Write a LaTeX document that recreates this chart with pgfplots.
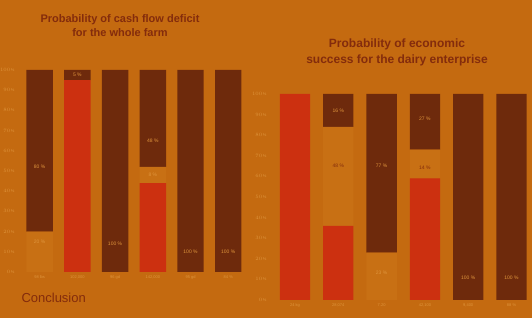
\documentclass[border=0pt]{standalone}
\usepackage{pgfplots}
\pgfplotsset{compat=1.18}
\usepackage{fontspec}
\setmainfont{Liberation Sans}
\definecolor{bg}{RGB}{196,106,16}
\definecolor{darkb}{RGB}{110,42,12}
\definecolor{redb}{RGB}{204,48,16}
\definecolor{orb}{RGB}{200,112,20}
\definecolor{ttl}{RGB}{132,44,12}
\definecolor{lbl}{RGB}{222,148,60}
\pgfplotsset{
  slide/.style={
    scale only axis, anchor=south west,
    ybar stacked, bar width=0.7,
    ymin=0, ymax=100, ytick={0,10,...,100},
    yticklabel={\pgfmathprintnumber{\tick}\,\%},
    axis line style={draw=none}, major tick length=0pt,
    xtick={0,1,2,3,4,5},
    tick label style={font=\fontsize{4}{4}\selectfont, text=lbl},
    yticklabel style={xshift=1pt},
    clip=false,
  },
  labs/.style={
    scale only axis, anchor=south west, hide axis, clip=false,
    ymin=0, ymax=100,
  },
  lab/.style={only marks, mark=*, mark size=0pt, mark options={draw=none,fill=none},
    nodes near coords, point meta=explicit symbolic, nodes near coords align=center,
    nodes near coords style={font=\fontsize{5}{5}\selectfont, text=#1, inner sep=0pt}},
}
\begin{document}
\begin{tikzpicture}
\useasboundingbox (0,0) rectangle (532pt,318pt);
\clip (0,0) rectangle (532pt,318pt);
\fill[bg] (0,0) rectangle (532pt,318pt);
\begin{axis}[slide, at={(17pt,46pt)}, width=232pt, height=202pt,
  xmin=-0.6, xmax=5.55,
  xticklabels={98 lbs,102{,}000,96 gd,142{,}000,95 gd,84 \%}]
\addplot[fill=redb,draw=none] coordinates {(0,0) (1,95) (2,0) (3,44) (4,0) (5,0)};
\addplot[fill=orb,draw=none] coordinates {(0,20) (1,0) (2,0) (3,8) (4,0) (5,0)};
\addplot[fill=darkb,draw=none] coordinates {(0,80) (1,5) (2,100) (3,48) (4,100) (5,100)};
\end{axis}
\begin{axis}[labs, at={(17pt,46pt)}, width=232pt, height=202pt, xmin=-0.6, xmax=5.55]
\addplot[lab=lbl] coordinates {(0,52) [80 \%] (0,15) [20 \%] (1,97.5) [5 \%] (2,14) [100 \%]
  (3,65) [48 \%] (3,48) [8 \%] (4,10) [100 \%] (5,10) [100 \%]};
\end{axis}
\begin{axis}[slide, at={(269pt,18pt)}, width=262pt, height=206pt,
  xmin=-0.6, xmax=5.45,
  xticklabels={24 kg,28{,}074,7.20,42{,}100,9{,}400,88 \%}]
\addplot[fill=redb,draw=none] coordinates {(0,100) (1,36) (2,0) (3,59) (4,0) (5,0)};
\addplot[fill=orb,draw=none] coordinates {(0,0) (1,48) (2,23) (3,14) (4,0) (5,0)};
\addplot[fill=darkb,draw=none] coordinates {(0,0) (1,16) (2,77) (3,27) (4,100) (5,100)};
\end{axis}
\begin{axis}[labs, at={(269pt,18pt)}, width=262pt, height=206pt, xmin=-0.6, xmax=5.45]
\addplot[lab=lbl] coordinates {(1,92) [16 \%] (2,65) [77 \%] (2,13) [23 \%] (3,88) [27 \%]
  (4,11) [100 \%] (5,11) [100 \%]};
\addplot[lab=ttl] coordinates {(1,65) [48 \%] (3,64) [14 \%]};
\end{axis}
\node[text=ttl, font=\bfseries\fontsize{11}{14}\selectfont, align=center] at (120pt,292pt) {Probability of cash flow deficit\\for the whole farm};
\node[text=ttl, font=\bfseries\fontsize{12}{16}\selectfont, align=center] at (397pt,266pt) {Probability of economic\\success for the dairy enterprise};
\node[text=ttl, font=\fontsize{13}{15}\selectfont, anchor=west] at (18pt,20pt) {Conclusion};
\end{tikzpicture}
\end{document}
